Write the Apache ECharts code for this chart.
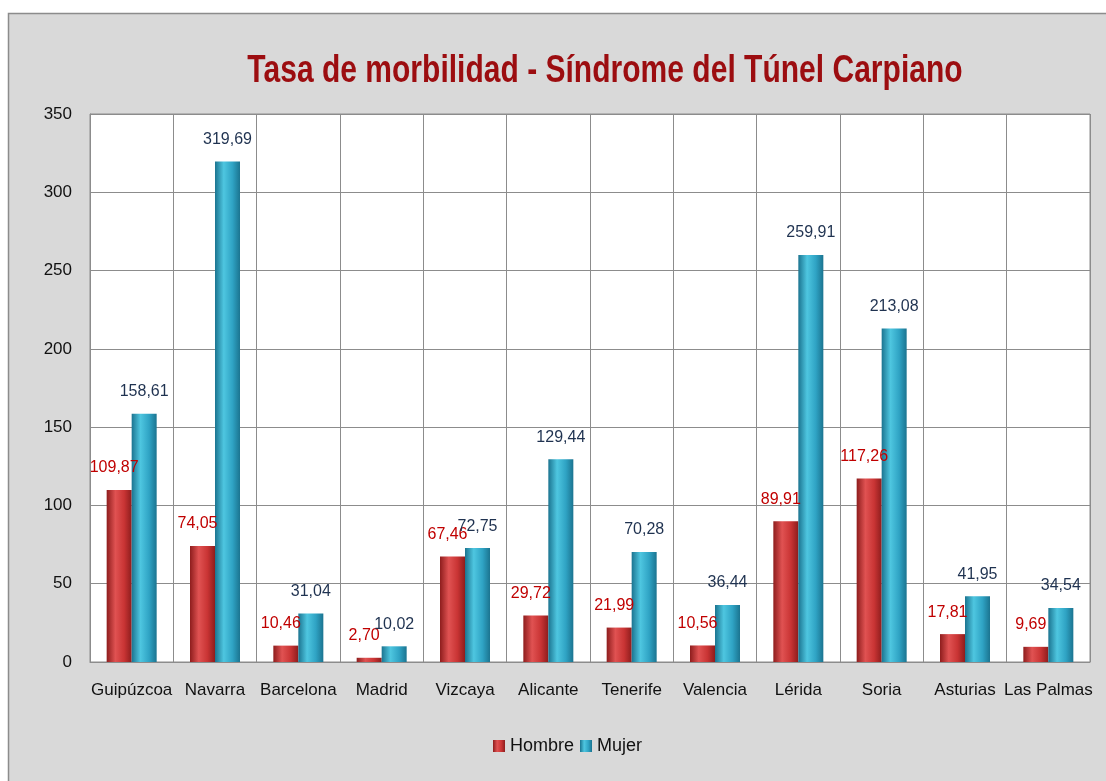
<!DOCTYPE html>
<html>
<head>
<meta charset="utf-8">
<script src="https://cdn.jsdelivr.net/npm/echarts@6/dist/echarts.min.js"></script>
<style>
  html, body { margin: 0; padding: 0; background: #fff; }
  #chart { width: 1106px; height: 781px; }
</style>
</head>
<body>
<div id="chart"></div>
<script>
const categories = ['Guipúzcoa', 'Navarra', 'Barcelona', 'Madrid', 'Vizcaya', 'Alicante',
  'Tenerife', 'Valencia', 'Lérida', 'Soria', 'Asturias', 'Las Palmas'];
const hombre = [109.87, 74.05, 10.46, 2.70, 67.46, 29.72, 21.99, 10.56, 89.91, 117.26, 17.81, 9.69];
const mujer = [158.61, 319.69, 31.04, 10.02, 72.75, 129.44, 70.28, 36.44, 259.91, 213.08, 41.95, 34.54];
const yTicks = [0, 50, 100, 150, 200, 250, 300, 350];

const fontBody = '"Liberation Sans", sans-serif';

// horizontal gradient to fake the rounded 3d look of the bars
function barGrad(edge, mid, light) {
  return new echarts.graphic.LinearGradient(0, 0, 1, 0, [
    { offset: 0, color: edge },
    { offset: 0.35, color: light },
    { offset: 0.7, color: mid },
    { offset: 1, color: edge }
  ]);
}

function fmt(p) {
  return p.value.toFixed(2).replace('.', ',');
}

let chart = echarts.init(document.getElementById('chart'));

let option = {
  backgroundColor: '#ffffff',
  graphic: [
    {
      type: 'rect',
      z: -10,
      silent: true,
      shape: { x: 8.5, y: 13.5, width: 1120, height: 800 },
      style: { fill: '#d9d9d9', stroke: '#8c8c8c', lineWidth: 1.5 }
    },
    {
      // title, squeezed horizontally to look like the narrow original font
      type: 'text',
      x: 605,
      y: 71,
      scaleX: 0.77,
      style: {
        text: 'Tasa de morbilidad - Síndrome del Túnel Carpiano',
        fontFamily: fontBody,
        fontWeight: 'bold',
        fontSize: 39,
        fill: '#9c0d10',
        align: 'center',
        verticalAlign: 'middle'
      }
    }
  ],
  legend: {
    bottom: 21,
    left: 488,
    itemWidth: 12,
    itemHeight: 12,
    itemGap: 6,
    icon: 'rect',
    textStyle: { fontFamily: fontBody, fontSize: 18, color: '#111' },
    data: ['Hombre', 'Mujer']
  },
  grid: {
    left: 90,
    right: 16,
    top: 114,
    bottom: 119,
    show: true,
    backgroundColor: '#ffffff',
    borderColor: '#8c8c8c',
    borderWidth: 1
  },
  xAxis: {
    type: 'category',
    data: categories,
    axisLine: { lineStyle: { color: '#8c8c8c' } },
    axisTick: { show: false },
    splitLine: { show: true, lineStyle: { color: '#8c8c8c', width: 1 } },
    axisLabel: {
      margin: 20,
      interval: 0,
      fontFamily: fontBody,
      fontSize: 17,
      color: '#111'
    }
  },
  yAxis: {
    type: 'value',
    min: yTicks[0],
    max: yTicks[yTicks.length - 1],
    interval: 50,
    axisLine: { show: true, lineStyle: { color: '#8c8c8c' } },
    axisTick: { show: false },
    splitLine: { lineStyle: { color: '#8c8c8c', width: 1 } },
    axisLabel: {
      margin: 18,
      fontFamily: fontBody,
      fontSize: 17,
      color: '#111'
    }
  },
  series: [
    {
      name: 'Hombre',
      type: 'bar',
      data: hombre,
      barGap: '0%',
      barCategoryGap: '40%',
      itemStyle: { color: barGrad('#8e1d1d', '#c93434', '#e05252') },
      label: {
        show: true,
        position: 'top',
        distance: 14,
        offset: [-5, 0],
        formatter: fmt,
        fontFamily: fontBody,
        fontSize: 16,
        color: '#c00000'
      }
    },
    {
      name: 'Mujer',
      type: 'bar',
      data: mujer,
      itemStyle: { color: barGrad('#1b7490', '#2fa3c4', '#4ec6e0') },
      label: {
        show: true,
        position: 'top',
        distance: 14,
        offset: [0, 0],
        formatter: fmt,
        fontFamily: fontBody,
        fontSize: 16,
        color: '#1f3250'
      }
    }
  ]
};

chart.setOption(option);
</script>
</body>
</html>
